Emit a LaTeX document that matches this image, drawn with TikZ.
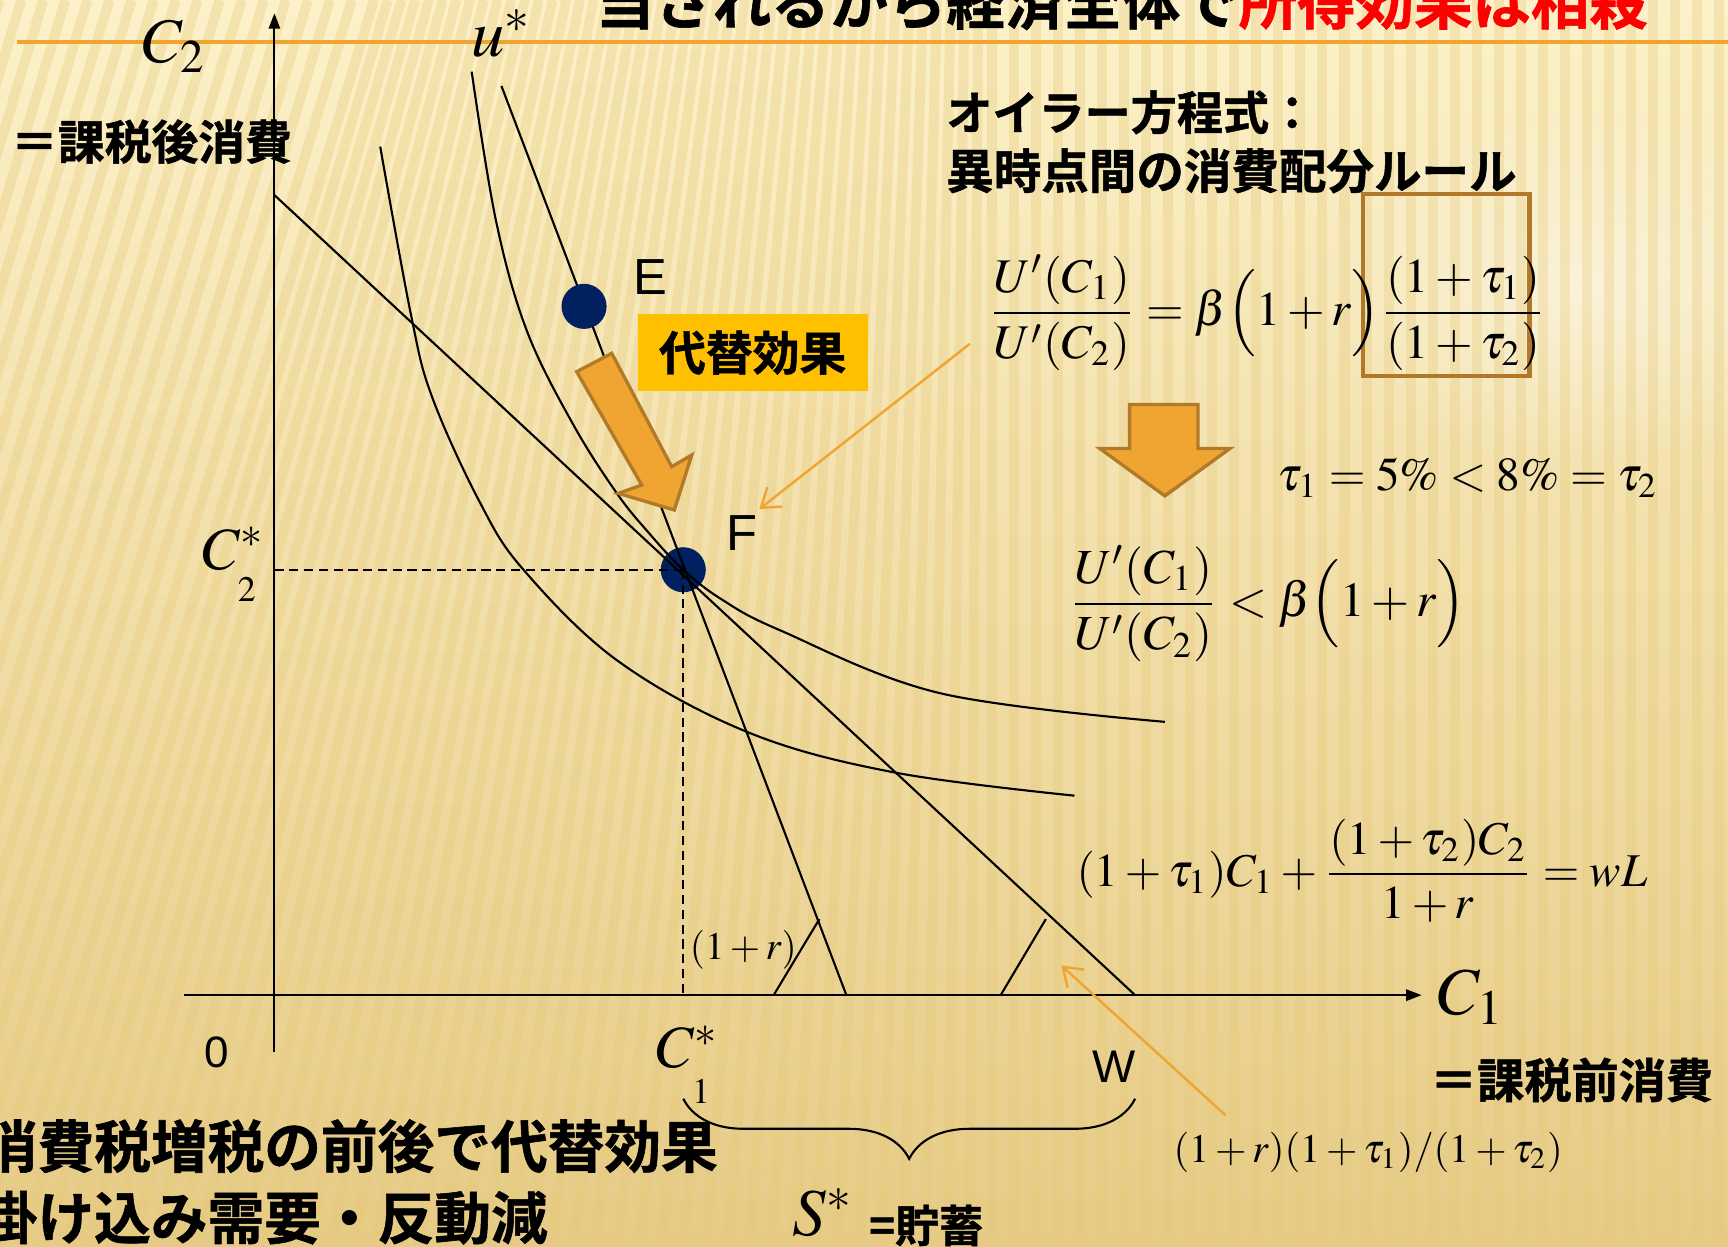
\documentclass[tikz,border=0pt]{standalone}
\usepackage{amsmath}
\usepackage{mathptmx}
\usepackage{graphicx}
\usepackage[no-math]{fontspec}
\setmainfont{Liberation Serif}
\newfontfamily\jp{Noto Sans CJK JP Bold}[FakeBold=1]
\newfontfamily\arl{Liberation Sans}
\usetikzlibrary{arrows.meta,decorations.pathreplacing,fadings}
\tikzfading[name=glowfade,inner color=transparent!0,outer color=transparent!100]
\newcommand\fsz[1]{\fontsize{#1pt}{#1pt}\selectfont}
\definecolor{bgtop}{RGB}{252,241,201}
\definecolor{bgmid}{RGB}{248,231,178}
\definecolor{bgbot}{RGB}{230,203,134}
\definecolor{stripe}{RGB}{230,200,120}
\definecolor{orng}{RGB}{240,165,50}
\definecolor{orngdk}{RGB}{178,122,40}
\definecolor{navy}{RGB}{0,32,96}
\definecolor{ybox}{RGB}{255,192,0}
\definecolor{brn}{RGB}{176,120,40}
\begin{document}
\begin{tikzpicture}[x=0.011cm,y=-0.011cm,
  curve/.style={line width=0.6pt,black},
  axisline/.style={line width=0.6pt,black,-{Triangle[length=4.4pt,width=3.2pt]}},
  guide/.style={line width=0.6pt,dash pattern=on 2.6pt off 1.6pt},
  pointer/.style={orng,line width=0.7pt,-{Straight Barb[length=5pt,width=7pt]}},
  dot/.style={circle,fill=navy,minimum size=0.45cm,inner sep=0},
  jptext/.style={inner sep=0,font=\jp\fsz{#1}},
  mlabel/.style={inner sep=0,font=\fsz{#1}},
  slabel/.style={inner sep=0,font=\arl\fsz{#1}},
  blockarrow/.style={fill=orng,draw=orngdk,line width=0.95pt,line join=miter}]
\useasboundingbox (0,0) rectangle (1568,1131);
\clip (0,0) rectangle (1568,1131);
% background
\shade[top color=bgtop,middle color=bgmid,bottom color=bgbot] (0,0) rectangle (1568,1131);
\fill[white,opacity=0.45,path fading=glowfade] (1440,260) ellipse (260 and 170);
\foreach \i in {0,...,100} {
  \pgfmathsetmacro\xb{-400+\i*20}
  \pgfmathsetmacro\k{0.3*max(0,min(1,(900-\xb)/900))}
  \draw[stripe,line width=0.1cm,opacity=0.32] (\xb,1131) -- ({\xb+\k*1131},0);
}
% top rule and clipped title
\coordinate (ruleL) at (15,38);
\coordinate (ruleR) at (1568,38);
\draw[orng,line width=0.95pt] (ruleL) -- (ruleR);
\node[jptext=16.6,anchor=base west] (title) at (540,22) {当されるから経済全体で\textcolor{red}{所得効果は相殺}};
% axes
\coordinate (ybot) at (249,955);
\coordinate (ytop) at (249,12);
\coordinate (xl) at (167,903);
\coordinate (xr) at (1290,903);
\draw[axisline] (ybot) -- (ytop);
\draw[axisline] (xl) -- (xr);
% F dot below the lines
\node[dot] (F) at (620,517) {};
% budget lines
\coordinate (flatA) at (249,177);
\coordinate (flatB) at (1030,903);
\coordinate (steepA) at (455,78);
\coordinate (steepB) at (768,903);
\draw[curve] (flatA) -- (flatB);
\draw[curve] (steepA) -- (steepB);
% indifference curves
\draw[curve] plot[smooth,tension=0.6] coordinates {(345,133) (373,286) (392,360) (435,455) (475,517) (561,600) (680,665) (812,701) (975,722)};
\draw[curve] plot[smooth,tension=0.6] coordinates {(428,65) (450,200) (478,300) (520,385) (560,448) (590,485) (620,517) (655,544) (708,572) (853,629) (1057,655)};
% angle marks
\coordinate (m1a) at (702,903);
\coordinate (m1b) at (743.5,834);
\coordinate (m2a) at (908,903);
\coordinate (m2b) at (949,834);
\draw[curve] (m1a) -- (m1b);
\draw[curve] (m2a) -- (m2b);
% guides
\coordinate (c2lev) at (249,517);
\coordinate (c1lev) at (620,903);
\draw[guide] (c2lev) -- (F.center);
\draw[guide] (F.center) -- (c1lev);
% E dot
\node[dot] (E) at (530,278) {};
% substitution arrow
\filldraw[blockarrow] (523.3,337.3) -- (582.3,440.1) -- (561.1,447.7) -- (611.9,462.8) -- (627.7,412.9) -- (609.5,423.5) -- (555.1,320.6) -- cycle;
% yellow label
\node[fill=ybox,minimum width=2.3cm,minimum height=0.765cm,inner sep=0,font=\jp\fsz{13.3}] (subst) at (683,320) {代替効果};
% down arrow
\filldraw[blockarrow] (1025,367) -- (1087,367) -- (1087,407) -- (1116,407) -- (1057,450) -- (998,407) -- (1025,407) -- cycle;
% brown frame
\draw[brn,line width=1.25pt] (1237,176) rectangle (1388,341);
% pointers
\coordinate (p1s) at (880,312);
\coordinate (p1e) at (689,462);
\coordinate (p2s) at (1112,1012);
\coordinate (p2e) at (963,876);
\draw[pointer] (p1s) -- (p1e);
\draw[pointer] (p2s) -- (p2e);
% brace
\coordinate (brR) at (1030,997);
\coordinate (brL) at (620,997);
\draw[curve,decorate,decoration={brace,amplitude=0.6cm}] (brR) -- (brL);
% Japanese texts
\node[jptext=13.3] (c2desc) at (137.5,128.5) {＝課税後消費};
\node[jptext=13.1,anchor=west] (eu1) at (858,102) {オイラー方程式：};
\node[jptext=13.5,anchor=west] (eu2) at (858,155) {異時点間の消費配分ルール};
\node[jptext=13.4] (c1desc) at (1426,980) {＝課税前消費};
\node[jptext=16.1,anchor=west] (bl1) at (-18,1040) {消費税増税の前後で代替効果};
\node[jptext=16.1,anchor=west] (bl2) at (-18,1105) {掛け込み需要・反動減};
\node[jptext=12.5,anchor=west] (sav) at (788,1112) {=貯蓄};
% axis labels
\node[mlabel=18] (C2) at (158,42) {$C_2$};
\node[mlabel=19] (ustar) at (455,30) {$u^{*}$};
\node[mlabel=17] (C2s) at (212,512) {$C^{*}_{\raisebox{-5pt}{$\scriptscriptstyle 2$}}$};
\node[mlabel=17] (C1s) at (624,966) {$C^{*}_{\raisebox{-6pt}{$\scriptscriptstyle 1$}}$};
\node[mlabel=19] (C1) at (1335,905) {$C_1$};
\node[mlabel=19] (Ss) at (747,1100) {$S^{*}$};
\node[slabel=14.4] (Elbl) at (590,251) {E};
\node[slabel=14.4] (Flbl) at (673,484) {F};
\node[slabel=13] (Wlbl) at (1011,968) {W};
\node[slabel=12.5] (Olbl) at (197,955) {0};
% formulas
\node[inner sep=0] (eq1) at (1150,284) {\resizebox{5.566cm}{!}{$\dfrac{U'(C_1)}{U'(C_2)}=\beta\Bigl(1+r\Bigr)\dfrac{(1+\tau_1)}{(1+\tau_2)}$}};
\node[inner sep=0] (eqtau) at (1332,434) {\resizebox{3.795cm}{!}{$\tau_1=5\%<8\%=\tau_2$}};
\node[inner sep=0] (eq2) at (1150,548) {\resizebox{3.96cm}{!}{$\dfrac{U'(C_1)}{U'(C_2)}<\beta\Bigl(1+r\Bigr)$}};
\node[inner sep=0] (eq3) at (1236,790) {\resizebox{5.698cm}{!}{$(1+\tau_1)C_1+\dfrac{(1+\tau_2)C_2}{1+r}=wL$}};
\node[inner sep=0] (eq4) at (1241.5,1046) {\resizebox{3.883cm}{!}{$(1+r)(1+\tau_1)/(1+\tau_2)$}};
\node[inner sep=0] (eqr) at (674.5,862) {\resizebox{1.067cm}{!}{$(1+r)$}};
\end{tikzpicture}
\end{document}
